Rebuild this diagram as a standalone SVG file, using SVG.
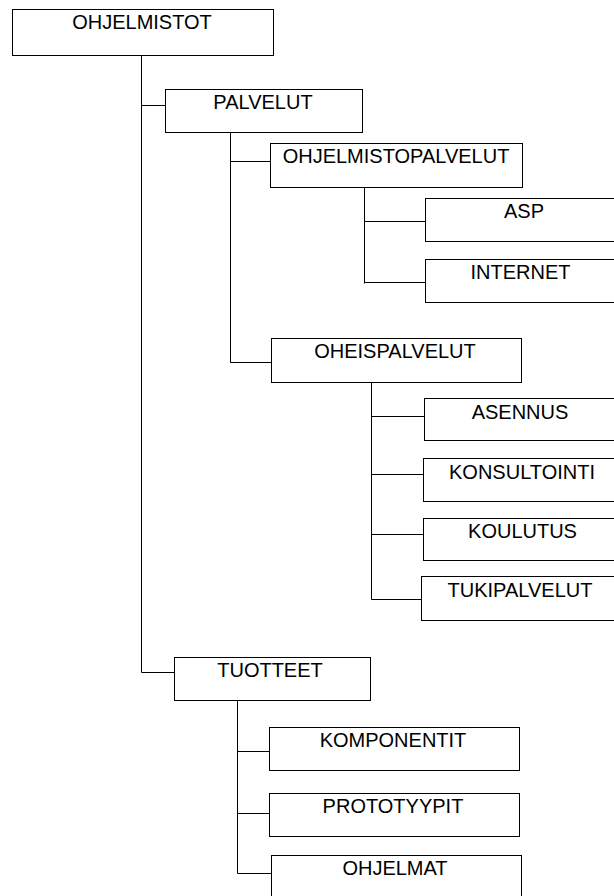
<svg xmlns="http://www.w3.org/2000/svg" width="614" height="896" viewBox="0 0 614 896">
<style>
.box{fill:#fff;stroke:#000;stroke-width:1}
.lbl{font-family:"Liberation Sans",Arial,sans-serif;font-size:20px;fill:#000;text-anchor:middle}
.con{stroke:#000;stroke-width:1;fill:none}
</style>
<rect width="614" height="896" fill="#fff"/>
<g id="connectors" class="con">
<path d="M141.5 55V672.5M141.5 105.5H166M141.5 672.5H174"/>
<path d="M230.5 133V362.5M230.5 161.5H270M230.5 362.5H271"/>
<path d="M364.5 187V283.5M364.5 221.5H425M364.5 282.5H425"/>
<path d="M371.5 382V599.5M371.5 416.5H424M371.5 474.5H423M371.5 534.5H423M371.5 599.5H422"/>
<path d="M237.5 700V873.5M237.5 751.5H269M237.5 813.5H269M237.5 873.5H271"/>
</g>
<g id="n-ohjelmistot"><rect class="box" x="12.5" y="9.5" width="261" height="46"/><text class="lbl" x="142" y="29">OHJELMISTOT</text></g>
<g id="n-palvelut"><rect class="box" x="165.5" y="89.5" width="197" height="43"/><text class="lbl" x="263" y="109">PALVELUT</text></g>
<g id="n-ohjelmistopalvelut"><rect class="box" x="270.5" y="143.5" width="252" height="44"/><text class="lbl" x="396" y="163">OHJELMISTOPALVELUT</text></g>
<g id="n-asp"><rect class="box" x="425.5" y="198.5" width="200" height="43"/><text class="lbl" x="524" y="218">ASP</text></g>
<g id="n-internet"><rect class="box" x="425.5" y="259.5" width="200" height="43"/><text class="lbl" x="520.5" y="279">INTERNET</text></g>
<g id="n-oheispalvelut"><rect class="box" x="271.5" y="338.5" width="250" height="44"/><text class="lbl" x="395" y="358">OHEISPALVELUT</text></g>
<g id="n-asennus"><rect class="box" x="424.5" y="398.5" width="200" height="42"/><text class="lbl" x="520" y="419">ASENNUS</text></g>
<g id="n-konsultointi"><rect class="box" x="423.5" y="458.5" width="200" height="43"/><text class="lbl" x="522" y="479">KONSULTOINTI</text></g>
<g id="n-koulutus"><rect class="box" x="423.5" y="518.5" width="200" height="42"/><text class="lbl" x="522.5" y="538">KOULUTUS</text></g>
<g id="n-tukipalvelut"><rect class="box" x="421.5" y="576.5" width="200" height="44"/><text class="lbl" x="520" y="597">TUKIPALVELUT</text></g>
<g id="n-tuotteet"><rect class="box" x="174.5" y="657.5" width="196" height="43"/><text class="lbl" x="270" y="677">TUOTTEET</text></g>
<g id="n-komponentit"><rect class="box" x="269.5" y="727.5" width="250" height="43"/><text class="lbl" x="393" y="747">KOMPONENTIT</text></g>
<g id="n-prototyypit"><rect class="box" x="269.5" y="793.5" width="250" height="43"/><text class="lbl" x="393" y="813">PROTOTYYPIT</text></g>
<g id="n-ohjelmat"><rect class="box" x="271.5" y="855.5" width="250" height="50"/><text class="lbl" x="395" y="875">OHJELMAT</text></g>
</svg>
